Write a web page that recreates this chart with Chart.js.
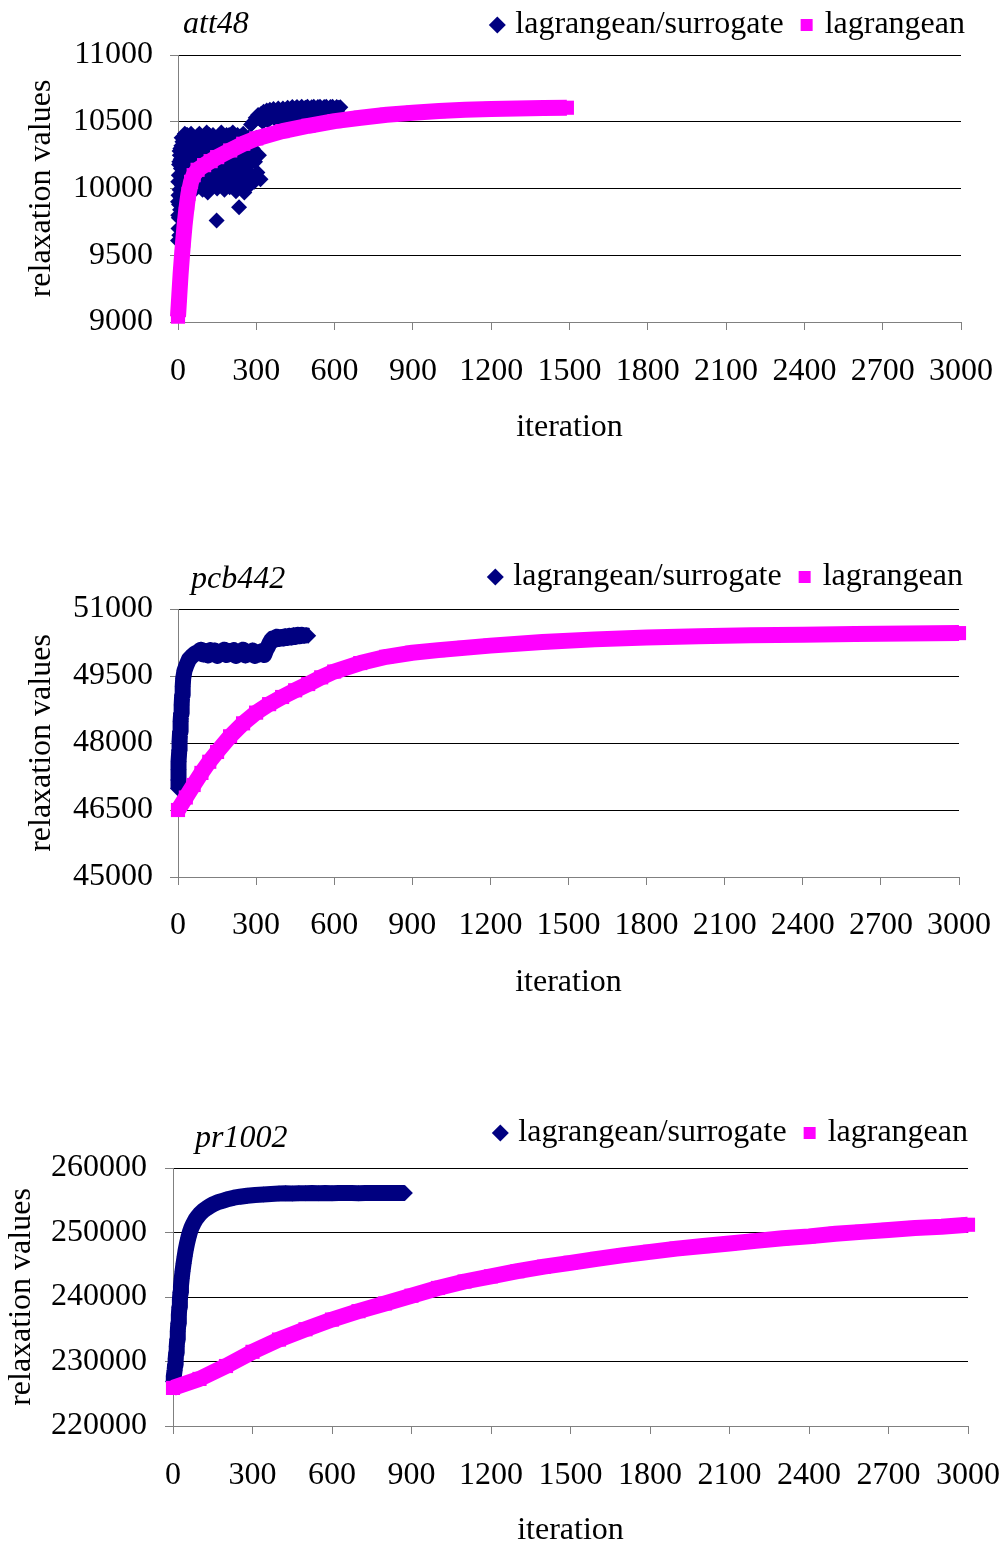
<!DOCTYPE html>
<html>
<head>
<meta charset="utf-8">
<title>Relaxation values per iteration</title>
<script src="https://cdn.jsdelivr.net/npm/chart.js@4.4.1/dist/chart.umd.min.js"></script>
<style>
  html, body { margin: 0; padding: 0; background: #fff; }
  body { width: 1002px; height: 1545px; position: relative; overflow: hidden; }
  canvas { position: absolute; left: 0; }
</style>
</head>
<body>
<canvas id="att48" width="1002" height="482"></canvas>
<canvas id="pcb442" width="1002" height="490"></canvas>
<canvas id="pr1002" width="1002" height="465"></canvas>
<script>
// ---- data: [iteration, relaxation value] ----
const iterationAxis = [0, 3000, 300];          // min, max, step
const att48Y = [9000, 11000, 500];
const pcb442Y = [45000, 51000, 1500];
const pr1002Y = [220000, 260000, 10000];

const att48Surrogate = [
  [0,9610],[1,9800],[2,9950],[2,9700],[3,10100],[4,9880],[5,10200],[6,9990],[7,10250],[8,10060],[9,10300],[10,9930],[11,10150],
  [0,9900],[1,10050],[3,9780],[4,10180],[5,9650],[6,10280],[8,9840],[10,10220],[11,9960],
  [13,10320],[15,10020],[17,10350],[19,10100],[21,10230],[23,10380],[25,10060],[27,10300],[29,10150],[31,10400],[33,10010],[35,10260],[37,10370],[39,10090],
  [12,10200],[14,10380],[16,10120],[18,10270],[20,10000],[22,10340],[24,10180],[26,10410],[28,10050],[30,10230],[32,10330],[34,10130],[36,10400],[38,10200],[40,10280],
  [42,10330],[46,10180],[50,10410],[54,10050],[58,10280],[62,10380],[66,10120],[70,10000],[74,10350],[78,10220],[82,10410],[86,10070],[90,10300],[94,9990],[98,10390],
  [102,10150],[106,10260],[110,10420],[114,9970],[118,10110],[122,10340],[126,10030],[130,10210],[134,10400],[138,10080],[142,10310],[148,9760],[150,10000],
  [154,10370],[158,10140],[162,10260],[166,10420],[170,10050],[174,10320],[178,9990],[182,10180],[186,10400],[190,10090],[194,10280],[198,10010],
  [202,10350],[206,10150],[210,10420],[214,10060],[218,10240],[222,9980],[226,10330],[230,10110],[234,9860],[238,10390],[242,10020],[246,10200],[250,10410],
  [254,9970],[258,10130],[262,10300],[266,10050],[270,10380],[274,10180],[278,10030],
  [44,10250],[48,10120],[52,10360],[56,10200],[60,10060],[64,10300],[68,10160],[72,10390],[76,10240],[80,10110],[84,10340],[88,10200],[92,10030],[96,10290],
  [100,10370],[104,10060],[108,10190],[112,10330],[116,10240],[120,10400],[124,10150],[128,10300],[132,10040],[136,10250],[140,10380],[144,10120],[148,10220],
  [152,10340],[156,10060],[160,10400],[164,10180],[168,10300],[172,10110],[176,10380],[180,10250],[184,10040],[188,10330],[192,10170],[196,10400],[200,10230],
  [204,10080],[208,10310],[212,10190],[216,10370],[220,10120],[224,10260],[228,10400],[232,10050],[236,10210],[240,10330],[244,10100],[248,10290],[252,10160],
  [256,10370],[260,10050],[264,10220],[268,10320],[272,10100],[276,10260],
  [280,10480],[283,10100],[286,10300],[289,10500],[292,10050],[295,10200],[298,10530],[301,10380],[304,10120],[307,10550],[310,10250],[313,10520],[316,10070],[319,10560],
  [320,10540],[324,10500],[328,10575],[332,10520],[336,10560],[340,10585],[344,10510],[348,10560],[352,10590],[356,10530],[360,10570],[366,10595],
  [372,10520],[378,10580],[384,10600],[390,10540],[396,10585],[402,10600],[408,10545],[414,10590],[420,10605],[426,10550],[432,10595],[438,10610],
  [444,10560],[450,10600],[456,10610],[462,10565],[468,10600],[474,10612],[480,10570],[488,10605],[496,10612],[504,10580],[512,10608],[520,10612],
  [528,10585],[536,10610],[544,10612],[552,10590],[560,10610],[568,10612],[576,10595],[584,10610],[592,10612],[600,10598],[608,10610],[616,10605],[622,10608],
  [330,10510],[350,10525],[370,10540],[390,10510],[410,10540],[430,10530],[450,10550],[470,10540],[490,10560],[510,10550],[530,10570],[550,10560],
  [570,10575],[590,10570],[610,10580]
];
const att48Lagrangean = [
  [0,9040],[5,9200],[10,9360],[15,9490],[20,9610],[25,9720],[30,9810],[35,9890],[40,9960],[50,10050],[60,10100],[75,10140],
  [100,10175],[125,10205],[150,10235],[200,10285],[250,10335],[300,10375],[400,10430],[500,10470],[600,10505],[700,10530],
  [800,10552],[900,10568],[1000,10580],[1100,10590],[1200,10596],[1300,10600],[1400,10603],[1490,10605]
];

const pcb442Surrogate = [
  [0,46980],[1,47170],[2,47400],[3,47580],[5,47840],[6,48030],[8,48250],[10,48480],[12,48660],[14,48850],[16,49070],[18,49260],[20,49450],
  [25,49620],[33,49750],[42,49870],[53,49940],[65,50000],[78,50040],[88,50090],[97,49980],[106,50060],[115,49960],[124,50080],[133,50000],
  [142,50070],[151,49950],[160,50050],[169,50010],[178,50090],[187,49970],[196,50060],[205,50000],[214,50080],[223,49950],[232,50040],
  [241,50010],[250,50090],[259,49960],[268,50050],[277,49990],[286,50070],[295,49950],[304,50030],[313,49980],[322,50060],[331,49970],
  [338,50080],[345,50150],[352,50240],[358,50300],[364,50340],[372,50310],[380,50380],[388,50330],[396,50370],[404,50340],[412,50390],
  [420,50350],[428,50400],[436,50360],[444,50410],[452,50380],[460,50420],[468,50390],[476,50420],[484,50400],[492,50410],[500,50400]
];
const pcb442Lagrangean = [
  [0,46500],[30,46780],[60,47060],[90,47330],[120,47580],[150,47800],[200,48150],[250,48440],[300,48680],[350,48870],[400,49030],
  [450,49180],[500,49320],[550,49470],[600,49600],[700,49790],[800,49930],[900,50020],[1000,50080],[1100,50130],[1200,50180],
  [1400,50260],[1600,50320],[1800,50360],[2000,50390],[2200,50410],[2400,50425],[2600,50440],[2800,50450],[3000,50460]
];

const pr1002Surrogate = [
  [0,226900],[3,227700],[6,228600],[8,229500],[10,230400],[12,231300],[14,232300],[16,233400],[18,234600],[20,235900],[22,237200],
  [24,238400],[26,239600],[28,240700],[30,241700],[33,242900],[36,244000],[40,245200],[44,246300],[48,247300],[53,248300],[58,249200],
  [64,250100],[70,250800],[77,251400],[85,252000],[94,252500],[104,253000],[115,253400],[127,253750],[140,254100],[155,254450],
  [170,254700],[190,254950],[210,255200],[230,255400],[253,255550],[280,255700],[310,255820],[341,255900],[370,255980],[400,256030],
  [425,256080],[450,256060],[475,256100],[500,256080],[525,256110],[550,256090],[575,256120],[600,256100],[625,256130],[650,256110],
  [675,256120],[700,256100],[725,256130],[750,256110],[775,256130],[800,256120],[825,256140],[850,256120],[875,256130]
];
const pr1002Lagrangean = [
  [0,225900],[100,227300],[200,229300],[300,231500],[400,233400],[500,235000],[600,236500],[700,237800],[800,239000],[900,240200],
  [1000,241400],[1100,242400],[1200,243200],[1300,244000],[1400,244700],[1500,245300],[1600,245900],[1700,246500],[1800,247000],
  [1900,247500],[2000,247900],[2100,248300],[2200,248700],[2300,249100],[2400,249400],[2500,249800],[2600,250100],[2700,250400],
  [2800,250700],[2900,250900],[3000,251200]
];

// ---- appearance ----
const NAVY = '#000080';
const MAGENTA = '#FF00FF';
const FONT = "'Liberation Serif', 'Times New Roman', serif";
const FS = 32;            // text size
const HALF_LINE = FS * 1.2 / 2;
const TICK_LEN = 8;
const LEG_PAD = 21;
const LEG_BOX_W = 4;      // marker slot width; the marker itself is sized by LEG_BOX_H
const LEG_BOX_H = 12;
const LEG_HEIGHT = FS + LEG_PAD + 10;

Chart.defaults.font.family = FONT;
Chart.defaults.font.size = FS;
Chart.defaults.color = '#000';

// instance name written at the top left of each plot
const nameTag = {
  id: 'nameTag',
  afterDraw(chart, args, opts) {
    const ctx = chart.ctx;
    ctx.save();
    ctx.font = 'italic ' + FS + 'px ' + FONT;
    ctx.fillStyle = '#000';
    ctx.textBaseline = 'middle';
    ctx.textAlign = 'left';
    ctx.fillText(opts.text, opts.x, opts.y);
    ctx.restore();
  }
};

const toPoints = pairs => pairs.map(p => ({x: p[0], y: p[1]}));

// frame geometry in page pixels
const panels = [
  {id: 'att48', top: -12, height: 482, plotTop: 55, plotBottom: 322, plotLeft: 178, plotRight: 961,
   legendEnd: 965, yLabelRight: 153, xLabelMid: 372, xTitleMid: 427.5, yTitleMid: 42, nameX: 183, nameMid: 24.5,
   yRange: att48Y, surrogate: att48Surrogate, lagrangean: att48Lagrangean, surrogateLine: false},
  {id: 'pcb442', top: 540, height: 490, plotTop: 609, plotBottom: 877, plotLeft: 178, plotRight: 959,
   legendEnd: 963, yLabelRight: 153, xLabelMid: 926, xTitleMid: 982.5, yTitleMid: 42, nameX: 191, nameMid: 580,
   yRange: pcb442Y, surrogate: pcb442Surrogate, lagrangean: pcb442Lagrangean, surrogateLine: true},
  {id: 'pr1002', top: 1096, height: 465, plotTop: 1168, plotBottom: 1426, plotLeft: 173, plotRight: 968,
   legendEnd: 968, yLabelRight: 147, xLabelMid: 1476, xTitleMid: 1530.5, yTitleMid: 22, nameX: 195, nameMid: 1139,
   yRange: pr1002Y, surrogate: pr1002Surrogate, lagrangean: pr1002Lagrangean, surrogateLine: true}
];

panels.forEach(p => {
  const canvas = document.getElementById(p.id);
  canvas.style.top = p.top + 'px';
  canvas.height = p.height;
  const gapBelowLegend = (p.plotTop - p.top) - LEG_HEIGHT;
  new Chart(canvas, {
    type: 'scatter',
    data: {
      datasets: [
        {
          label: 'lagrangean/surrogate',
          data: toPoints(p.surrogate),
          showLine: p.surrogateLine,
          borderWidth: 16,
          borderJoinStyle: 'round',
          pointStyle: 'rectRot',
          pointRadius: 8,
          pointHoverRadius: 8,
          pointBorderWidth: 0,
          backgroundColor: NAVY,
          borderColor: NAVY,
          order: 2,
          clip: false
        },
        {
          label: 'lagrangean',
          data: toPoints(p.lagrangean),
          showLine: true,
          borderWidth: 16,
          borderJoinStyle: 'round',
          pointStyle: 'rect',
          pointRadius: 10,
          pointHoverRadius: 10,
          pointBorderWidth: 0,
          backgroundColor: MAGENTA,
          borderColor: MAGENTA,
          order: 1,
          clip: false
        }
      ]
    },
    options: {
      responsive: false,
      animation: false,
      events: [],
      layout: {padding: {top: 0, left: 0, bottom: 0, right: 1002 - p.legendEnd - LEG_PAD}},
      plugins: {
        legend: {
          display: true,
          position: 'top',
          align: 'end',
          labels: {
            usePointStyle: true,
            boxWidth: LEG_BOX_W,
            boxHeight: LEG_BOX_H,
            padding: LEG_PAD,
            color: '#000',
            font: {size: FS, family: FONT},
            sort: (a, b) => a.datasetIndex - b.datasetIndex
          }
        },
        // empty title row used as the gap between legend and plot
        title: {
          display: true,
          text: '',
          weight: 500,
          font: {size: 1, lineHeight: 1},
          padding: {top: Math.max(gapBelowLegend - 1, 0), bottom: 0}
        },
        tooltip: {enabled: false},
        nameTag: {text: p.id, x: p.nameX, y: p.nameMid - p.top}
      },
      scales: {
        x: {
          type: 'linear',
          min: iterationAxis[0],
          max: iterationAxis[1],
          ticks: {stepSize: iterationAxis[2], autoSkip: false, maxRotation: 0,
                  padding: p.xLabelMid - p.plotBottom - TICK_LEN - HALF_LINE,
                  callback: v => String(v)},
          grid: {drawOnChartArea: false, drawTicks: true, tickLength: TICK_LEN, tickColor: '#808080'},
          border: {display: true, color: '#808080', width: 1},
          title: {display: true, text: 'iteration', color: '#000',
                  padding: {top: 0, bottom: (p.top + p.height) - p.xTitleMid - HALF_LINE}},
          afterFit(s) {
            s.height = p.height - (p.plotBottom - p.top);
            s.paddingRight = 1002 - p.plotRight;
          }
        },
        y: {
          type: 'linear',
          min: p.yRange[0],
          max: p.yRange[1],
          ticks: {stepSize: p.yRange[2], autoSkip: false,
                  padding: p.plotLeft - TICK_LEN - p.yLabelRight,
                  callback: v => String(v)},
          grid: {color: '#000', lineWidth: 1, drawTicks: true, tickLength: TICK_LEN, tickColor: '#808080'},
          border: {display: true, color: '#808080', width: 1},
          title: {display: true, text: 'relaxation values', color: '#000',
                  padding: {top: p.yTitleMid - HALF_LINE, bottom: 0}},
          afterFit(s) {
            s.width = p.plotLeft;
            s.paddingTop = p.plotTop - p.top;
          }
        }
      }
    },
    plugins: [nameTag]
  });
});
</script>
</body>
</html>
